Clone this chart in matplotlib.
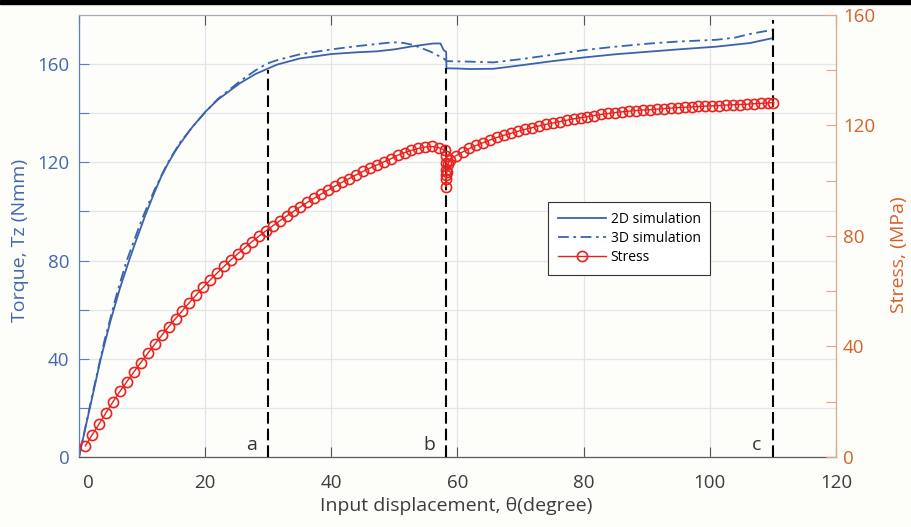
import matplotlib
matplotlib.use("Agg")
import matplotlib.pyplot as plt
from matplotlib.patches import Rectangle

plt.rcParams['font.family'] = ['Open Sans', 'DejaVu Sans']

# ---------------- data ----------------
x_2d = [0, 1, 2, 3.4, 5, 6.5, 8, 9, 10.5, 12, 13, 14, 15, 16, 18, 20, 22, 25.5, 28,
        31.4, 35, 40, 44, 47.2, 50, 52.5, 55, 56.2, 57.3, 57.8, 58.2, 58.25, 60, 62,
        65.7, 70, 75, 80, 85, 90.5, 95, 101, 106.4, 109.8]
torque_2d = [0, 11.7, 23.2, 39.5, 55.5, 68.8, 80.5, 87.8, 98.4, 108, 114, 119, 123.5,
             127.5, 134.5, 140.5, 145.5, 152.2, 156, 159.8, 162.3, 164.1, 164.8, 165.2,
             166, 167.1, 168, 168.4, 168.4, 165.7, 165, 158.3, 158.2, 158.0, 158.1,
             159.5, 161.2, 162.7, 164, 165.1, 166, 167.1, 168.6, 170.5]

x_3d = [0, 1, 2, 4, 6, 7.5, 8, 10, 12, 14, 16, 18, 20, 22, 25.5, 28, 29.8, 31.4, 35,
        40, 44, 47.2, 49.8, 51.5, 53, 55.7, 57.8, 58.3, 62, 65.7, 70, 75, 80, 85,
        90.5, 95, 101, 104, 106.4, 109.8]
torque_3d = [0, 12, 24, 47, 66.5, 79.5, 83, 97, 109, 119.5, 128, 134.5, 140.3, 145.8,
             153, 157.5, 160.2, 161.6, 164, 166, 167.3, 168.2, 168.9, 168.6, 167.8,
             165.1, 162.3, 161.2, 161, 160.7, 162, 163.8, 165.7, 167.1, 168.4, 169.2,
             169.9, 170.8, 172.3, 173.9]

x_stress = [1.0, 2.1, 3.2, 4.3, 5.4, 6.5, 7.6, 8.7, 9.8, 10.9, 12.0, 13.1, 14.2, 15.3,
            16.4, 17.5, 18.6, 19.7, 20.8, 21.9, 23.0, 24.1, 25.2, 26.3, 27.4, 28.5,
            29.6, 30.7, 31.8, 32.9, 34.0, 35.1, 36.2, 37.3, 38.4, 39.5, 40.6, 41.7,
            42.8, 43.9, 45.0, 46.1, 47.2, 48.3, 49.4, 50.5, 51.6, 52.7, 53.8, 54.9,
            56.0, 57.1, 58.0, 58.2, 58.2, 58.2, 58.2, 58.2, 58.2, 58.3, 58.5,
            58.8, 59.7, 60.8, 61.9, 63.0, 64.1, 65.2, 66.3, 67.4, 68.5, 69.6, 70.7,
            71.8, 72.9, 74.0, 75.1, 76.2, 77.3, 78.4, 79.5, 80.6, 81.7, 82.8, 83.9,
            85.0, 86.1, 87.2, 88.3, 89.4, 90.5, 91.6, 92.7, 93.8, 94.9, 96.0, 97.1,
            98.2, 99.3, 100.4, 101.5, 102.6, 103.7, 104.8, 105.9, 107.0, 108.1,
            109.2, 110.0]
stress = [4.0, 8.1, 12.0, 16.1, 20.0, 23.8, 27.3, 30.8, 34.2, 37.5, 40.8, 44.0, 47.1,
          50.1, 53.0, 55.9, 58.7, 61.4, 64.1, 66.6, 69.0, 71.4, 73.6, 75.8, 77.9, 79.9,
          81.8, 83.65, 85.45, 87.2, 88.9, 90.55, 92.15, 93.7, 95.2, 96.65, 98.05,
          99.45, 100.8, 102.1, 103.35, 104.55, 105.7, 106.8, 107.9, 109.2, 110.2,
          111.0, 111.7, 112.2, 112.4, 111.9, 111.0, 109.0, 106.5, 104.0, 102.0, 100.5,
          97.8, 103.0, 106.0,
          107.5, 109.0, 110.4, 111.7, 112.8, 113.8, 114.8, 115.7, 116.5, 117.2, 117.9,
          118.6, 119.2, 119.8, 120.4, 120.9, 121.4, 121.9, 122.4, 122.8, 123.2, 123.6,
          124.0, 124.35, 124.7, 124.95, 125.2, 125.4, 125.6, 125.7, 125.9, 126.1,
          126.3, 126.5, 126.6, 126.7, 126.9, 127.0, 127.1, 127.2, 127.4, 127.5, 127.6,
          127.7, 127.9, 128.0, 128.2, 128.3]

mark_x = [30, 58.2, 110]
mark_top = [157.5, 158.3, 178]
mark_labels = ['a', 'b', 'c']

x_ticks = [0, 20, 40, 60, 80, 100, 120]
torque_ticks = [0, 20, 40, 60, 80, 100, 120, 140, 160]
stress_ticks = [0, 20, 40, 60, 80, 100, 120, 140, 160]

# ---------------- style ----------------
BG = '#fdfdfa'
BLUE = '#3a62ad'
BLUE_TXT = '#4468ad'
RED = '#e8231f'
ORANGE_TXT = '#d5602a'
GRAY_TXT = '#3c3c3c'

W, H = 911, 527
fig = plt.figure(figsize=(W / 100, H / 100), dpi=100, facecolor=BG)
L, R, B, T = 79, 836, 457, 15
ax1 = fig.add_axes([L / W, (H - B) / H, (R - L) / W, (B - T) / H])
ax1.set_facecolor(BG)
ax2 = ax1.twinx()

fig.patches.append(Rectangle((0, 1 - 3.5 / H), 1, 3.5 / H, transform=fig.transFigure,
                             color='black', zorder=10))

ax1.set_xlim(0, 120)
ax1.set_ylim(0, 180)
ax2.set_ylim(0, 160)

l2d, = ax1.plot(x_2d, torque_2d, color=BLUE, lw=1.3, label='2D simulation')
l3d, = ax1.plot(x_3d, torque_3d, color=BLUE, lw=1.3, ls=(0, (6, 2.5, 1.5, 2.5)),
                label='3D simulation')
for xm, top, lab in zip(mark_x, mark_top, mark_labels):
    ax1.plot([xm, xm], [0, top], color='black', lw=1.5, ls=(0, (5.6, 2.4)), zorder=3)
    ax1.text(xm - 2.6, 4.9, lab, fontsize=14, color='#333333', ha='center', va='center')

ls_, = ax2.plot(x_stress, stress, color=RED, lw=1.0, marker='o', ms=7.3, mfc='none',
                mew=1.2, label='Stress')

# ticks
ax1.set_xticks(x_ticks)
ax1.set_xticklabels([''] + [str(v) for v in x_ticks[1:]])
ax1.set_yticks(torque_ticks)
ax1.set_yticklabels([str(v) if v % 40 == 0 else '' for v in torque_ticks])
ax2.set_yticks(stress_ticks)
ax2.set_yticklabels([str(v) if v % 40 == 0 else '' for v in stress_ticks])

ax1.tick_params(axis='x', direction='in', length=7, width=0.8, color='#555555',
                labelsize=13.5, labelcolor=GRAY_TXT, pad=12, top=True)
ax1.tick_params(axis='y', direction='in', length=7, width=0.8, color='#5f7fb5',
                labelsize=13.5, labelcolor=BLUE_TXT, pad=7, right=False)
ax2.tick_params(axis='y', direction='in', length=7, width=0.8, color='#e3a68a',
                labelsize=13.5, labelcolor=ORANGE_TXT, pad=5)

ax1.annotate('0', xy=(0, 0), xycoords=('data', 'axes fraction'), xytext=(6.5, -12),
             textcoords='offset points', ha='center', va='top', fontsize=13.5,
             color=GRAY_TXT)

ax1.grid(True, color='#e3e5ec', lw=0.9)
ax1.set_axisbelow(True)

for s in ['left', 'top', 'bottom']:
    ax2.spines[s].set_visible(False)
ax1.spines['right'].set_visible(False)
ax1.spines['left'].set_color('#5f7fb5')
ax1.spines['bottom'].set_color('#5a5a5a')
ax1.spines['top'].set_color('#a9abb5')
ax2.spines['right'].set_color('#e3a68a')
for sp in list(ax1.spines.values()) + list(ax2.spines.values()):
    sp.set_linewidth(0.9)

fig.text(455.7 / W, 1 - 506 / H, 'Input displacement, θ(degree)', fontsize=14,
         color=GRAY_TXT, ha='center', va='center')
fig.text(20 / W, 1 - 240 / H, 'Torque, Tz (Nmm)', fontsize=14, color=BLUE_TXT,
         rotation=90, ha='center', va='center')
fig.text(899 / W, 1 - 255 / H, 'Stress, (MPa)', fontsize=14, color=ORANGE_TXT,
         rotation=90, ha='center', va='center')

leg = ax2.legend(handles=[l2d, l3d, ls_], loc='lower left',
                 bbox_to_anchor=(0.6196, 0.4118), borderaxespad=0, fontsize=10,
                 handlelength=3.5, handletextpad=0.3, borderpad=0.7, labelspacing=0.3,
                 fancybox=False, framealpha=1, facecolor='white', edgecolor='#333333')
leg.get_frame().set_linewidth(0.8)

fig.savefig('out.png', dpi=100, facecolor=BG)
